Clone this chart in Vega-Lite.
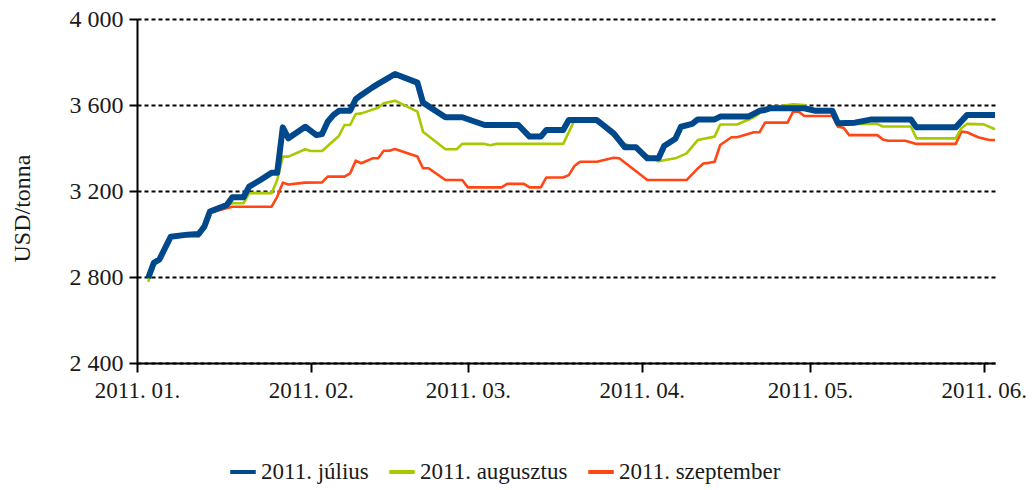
{
  "$schema": "https://vega.github.io/schema/vega-lite/v6.json",
  "width": 858,
  "height": 344,
  "autosize": {"type": "none"},
  "padding": {"left": 137, "top": 19, "right": 37, "bottom": 127},
  "background": "white",
  "config": {
    "font": "Liberation Serif",
    "view": {"stroke": null},
    "axis": {"labelFont": "Liberation Serif", "titleFont": "Liberation Serif"},
    "legend": {"labelFont": "Liberation Serif"}
  },
  "data": {"values": [
    {"d":"2011-01-03","s":"2011. július","v":2795},{"d":"2011-01-04","s":"2011. július","v":2866},{"d":"2011-01-05","s":"2011. július","v":2882},{"d":"2011-01-07","s":"2011. július","v":2987},{"d":"2011-01-10","s":"2011. július","v":2997},{"d":"2011-01-12","s":"2011. július","v":3000},{"d":"2011-01-13","s":"2011. július","v":3034},{"d":"2011-01-14","s":"2011. július","v":3104},{"d":"2011-01-17","s":"2011. július","v":3135},{"d":"2011-01-18","s":"2011. július","v":3171},{"d":"2011-01-20","s":"2011. július","v":3171},{"d":"2011-01-21","s":"2011. július","v":3220},{"d":"2011-01-23","s":"2011. július","v":3251},{"d":"2011-01-25","s":"2011. július","v":3285},{"d":"2011-01-26","s":"2011. július","v":3285},{"d":"2011-01-27","s":"2011. július","v":3496},{"d":"2011-01-28","s":"2011. július","v":3445},{"d":"2011-01-31","s":"2011. július","v":3499},{"d":"2011-02-02","s":"2011. július","v":3460},{"d":"2011-02-03","s":"2011. július","v":3465},{"d":"2011-02-04","s":"2011. július","v":3522},{"d":"2011-02-05","s":"2011. július","v":3553},{"d":"2011-02-06","s":"2011. július","v":3573},{"d":"2011-02-08","s":"2011. július","v":3573},{"d":"2011-02-09","s":"2011. július","v":3627},{"d":"2011-02-10","s":"2011. július","v":3647},{"d":"2011-02-12","s":"2011. július","v":3682},{"d":"2011-02-13","s":"2011. július","v":3698},{"d":"2011-02-14","s":"2011. július","v":3713},{"d":"2011-02-16","s":"2011. július","v":3744},{"d":"2011-02-20","s":"2011. július","v":3704},{"d":"2011-02-21","s":"2011. július","v":3611},{"d":"2011-02-25","s":"2011. július","v":3543},{"d":"2011-02-28","s":"2011. július","v":3543},{"d":"2011-03-04","s":"2011. július","v":3507},{"d":"2011-03-10","s":"2011. július","v":3507},{"d":"2011-03-12","s":"2011. július","v":3453},{"d":"2011-03-14","s":"2011. július","v":3453},{"d":"2011-03-15","s":"2011. július","v":3484},{"d":"2011-03-18","s":"2011. július","v":3484},{"d":"2011-03-19","s":"2011. július","v":3530},{"d":"2011-03-24","s":"2011. július","v":3530},{"d":"2011-03-27","s":"2011. július","v":3468},{"d":"2011-03-29","s":"2011. július","v":3403},{"d":"2011-03-31","s":"2011. július","v":3403},{"d":"2011-04-02","s":"2011. július","v":3352},{"d":"2011-04-04","s":"2011. július","v":3352},{"d":"2011-04-05","s":"2011. július","v":3409},{"d":"2011-04-07","s":"2011. július","v":3443},{"d":"2011-04-08","s":"2011. július","v":3499},{"d":"2011-04-10","s":"2011. július","v":3512},{"d":"2011-04-11","s":"2011. július","v":3533},{"d":"2011-04-14","s":"2011. július","v":3533},{"d":"2011-04-15","s":"2011. július","v":3546},{"d":"2011-04-20","s":"2011. július","v":3546},{"d":"2011-04-22","s":"2011. július","v":3573},{"d":"2011-04-23","s":"2011. július","v":3577},{"d":"2011-04-24","s":"2011. július","v":3585},{"d":"2011-04-30","s":"2011. július","v":3585},{"d":"2011-05-02","s":"2011. július","v":3573},{"d":"2011-05-05","s":"2011. július","v":3573},{"d":"2011-05-06","s":"2011. július","v":3515},{"d":"2011-05-09","s":"2011. július","v":3518},{"d":"2011-05-12","s":"2011. július","v":3533},{"d":"2011-05-19","s":"2011. július","v":3533},{"d":"2011-05-20","s":"2011. július","v":3496},{"d":"2011-05-27","s":"2011. július","v":3496},{"d":"2011-05-29","s":"2011. július","v":3553},{"d":"2011-06-03","s":"2011. július","v":3553},
    {"d":"2011-01-03","s":"2011. augusztus","v":2778},{"d":"2011-01-04","s":"2011. augusztus","v":2855},{"d":"2011-01-05","s":"2011. augusztus","v":2875},{"d":"2011-01-07","s":"2011. augusztus","v":2982},{"d":"2011-01-10","s":"2011. augusztus","v":2993},{"d":"2011-01-12","s":"2011. augusztus","v":2995},{"d":"2011-01-13","s":"2011. augusztus","v":3030},{"d":"2011-01-14","s":"2011. augusztus","v":3100},{"d":"2011-01-17","s":"2011. augusztus","v":3132},{"d":"2011-01-18","s":"2011. augusztus","v":3143},{"d":"2011-01-20","s":"2011. augusztus","v":3143},{"d":"2011-01-21","s":"2011. augusztus","v":3190},{"d":"2011-01-25","s":"2011. augusztus","v":3190},{"d":"2011-01-26","s":"2011. augusztus","v":3251},{"d":"2011-01-27","s":"2011. augusztus","v":3360},{"d":"2011-01-28","s":"2011. augusztus","v":3360},{"d":"2011-01-31","s":"2011. augusztus","v":3394},{"d":"2011-02-01","s":"2011. augusztus","v":3386},{"d":"2011-02-03","s":"2011. augusztus","v":3386},{"d":"2011-02-04","s":"2011. augusztus","v":3409},{"d":"2011-02-06","s":"2011. augusztus","v":3456},{"d":"2011-02-07","s":"2011. augusztus","v":3507},{"d":"2011-02-08","s":"2011. augusztus","v":3507},{"d":"2011-02-09","s":"2011. augusztus","v":3558},{"d":"2011-02-10","s":"2011. augusztus","v":3561},{"d":"2011-02-13","s":"2011. augusztus","v":3587},{"d":"2011-02-14","s":"2011. augusztus","v":3608},{"d":"2011-02-16","s":"2011. augusztus","v":3620},{"d":"2011-02-20","s":"2011. augusztus","v":3569},{"d":"2011-02-21","s":"2011. augusztus","v":3476},{"d":"2011-02-25","s":"2011. augusztus","v":3394},{"d":"2011-02-27","s":"2011. augusztus","v":3394},{"d":"2011-02-28","s":"2011. augusztus","v":3419},{"d":"2011-03-04","s":"2011. augusztus","v":3419},{"d":"2011-03-05","s":"2011. augusztus","v":3413},{"d":"2011-03-06","s":"2011. augusztus","v":3419},{"d":"2011-03-18","s":"2011. augusztus","v":3419},{"d":"2011-03-20","s":"2011. augusztus","v":3528},{"d":"2011-03-24","s":"2011. augusztus","v":3528},{"d":"2011-03-28","s":"2011. augusztus","v":3430},{"d":"2011-03-30","s":"2011. augusztus","v":3407},{"d":"2011-03-31","s":"2011. augusztus","v":3400},{"d":"2011-04-02","s":"2011. augusztus","v":3365},{"d":"2011-04-04","s":"2011. augusztus","v":3338},{"d":"2011-04-07","s":"2011. augusztus","v":3352},{"d":"2011-04-09","s":"2011. augusztus","v":3375},{"d":"2011-04-11","s":"2011. augusztus","v":3437},{"d":"2011-04-14","s":"2011. augusztus","v":3453},{"d":"2011-04-15","s":"2011. augusztus","v":3509},{"d":"2011-04-18","s":"2011. augusztus","v":3509},{"d":"2011-04-21","s":"2011. augusztus","v":3543},{"d":"2011-04-23","s":"2011. augusztus","v":3580},{"d":"2011-04-24","s":"2011. augusztus","v":3588},{"d":"2011-04-28","s":"2011. augusztus","v":3603},{"d":"2011-04-30","s":"2011. augusztus","v":3600},{"d":"2011-05-01","s":"2011. augusztus","v":3577},{"d":"2011-05-05","s":"2011. augusztus","v":3573},{"d":"2011-05-06","s":"2011. augusztus","v":3507},{"d":"2011-05-10","s":"2011. augusztus","v":3512},{"d":"2011-05-13","s":"2011. augusztus","v":3512},{"d":"2011-05-14","s":"2011. augusztus","v":3500},{"d":"2011-05-19","s":"2011. augusztus","v":3500},{"d":"2011-05-20","s":"2011. augusztus","v":3445},{"d":"2011-05-27","s":"2011. augusztus","v":3445},{"d":"2011-05-28","s":"2011. augusztus","v":3492},{"d":"2011-05-29","s":"2011. augusztus","v":3512},{"d":"2011-06-01","s":"2011. augusztus","v":3510},{"d":"2011-06-03","s":"2011. augusztus","v":3487},
    {"d":"2011-01-03","s":"2011. szeptember","v":2790},{"d":"2011-01-04","s":"2011. szeptember","v":2860},{"d":"2011-01-05","s":"2011. szeptember","v":2878},{"d":"2011-01-07","s":"2011. szeptember","v":2985},{"d":"2011-01-10","s":"2011. szeptember","v":2993},{"d":"2011-01-12","s":"2011. szeptember","v":2988},{"d":"2011-01-13","s":"2011. szeptember","v":3030},{"d":"2011-01-14","s":"2011. szeptember","v":3100},{"d":"2011-01-17","s":"2011. szeptember","v":3120},{"d":"2011-01-18","s":"2011. szeptember","v":3127},{"d":"2011-01-25","s":"2011. szeptember","v":3127},{"d":"2011-01-26","s":"2011. szeptember","v":3173},{"d":"2011-01-27","s":"2011. szeptember","v":3239},{"d":"2011-01-28","s":"2011. szeptember","v":3230},{"d":"2011-01-31","s":"2011. szeptember","v":3239},{"d":"2011-02-03","s":"2011. szeptember","v":3240},{"d":"2011-02-04","s":"2011. szeptember","v":3267},{"d":"2011-02-07","s":"2011. szeptember","v":3267},{"d":"2011-02-08","s":"2011. szeptember","v":3282},{"d":"2011-02-09","s":"2011. szeptember","v":3341},{"d":"2011-02-10","s":"2011. szeptember","v":3329},{"d":"2011-02-12","s":"2011. szeptember","v":3352},{"d":"2011-02-13","s":"2011. szeptember","v":3352},{"d":"2011-02-14","s":"2011. szeptember","v":3387},{"d":"2011-02-15","s":"2011. szeptember","v":3387},{"d":"2011-02-16","s":"2011. szeptember","v":3395},{"d":"2011-02-20","s":"2011. szeptember","v":3360},{"d":"2011-02-21","s":"2011. szeptember","v":3306},{"d":"2011-02-22","s":"2011. szeptember","v":3306},{"d":"2011-02-25","s":"2011. szeptember","v":3251},{"d":"2011-02-28","s":"2011. szeptember","v":3251},{"d":"2011-03-01","s":"2011. szeptember","v":3217},{"d":"2011-03-07","s":"2011. szeptember","v":3217},{"d":"2011-03-08","s":"2011. szeptember","v":3233},{"d":"2011-03-11","s":"2011. szeptember","v":3233},{"d":"2011-03-12","s":"2011. szeptember","v":3217},{"d":"2011-03-14","s":"2011. szeptember","v":3217},{"d":"2011-03-15","s":"2011. szeptember","v":3263},{"d":"2011-03-18","s":"2011. szeptember","v":3263},{"d":"2011-03-19","s":"2011. szeptember","v":3274},{"d":"2011-03-20","s":"2011. szeptember","v":3316},{"d":"2011-03-21","s":"2011. szeptember","v":3336},{"d":"2011-03-24","s":"2011. szeptember","v":3336},{"d":"2011-03-27","s":"2011. szeptember","v":3355},{"d":"2011-03-28","s":"2011. szeptember","v":3352},{"d":"2011-04-02","s":"2011. szeptember","v":3251},{"d":"2011-04-09","s":"2011. szeptember","v":3251},{"d":"2011-04-11","s":"2011. szeptember","v":3305},{"d":"2011-04-12","s":"2011. szeptember","v":3328},{"d":"2011-04-13","s":"2011. szeptember","v":3331},{"d":"2011-04-14","s":"2011. szeptember","v":3336},{"d":"2011-04-15","s":"2011. szeptember","v":3414},{"d":"2011-04-17","s":"2011. szeptember","v":3450},{"d":"2011-04-18","s":"2011. szeptember","v":3450},{"d":"2011-04-21","s":"2011. szeptember","v":3473},{"d":"2011-04-22","s":"2011. szeptember","v":3473},{"d":"2011-04-23","s":"2011. szeptember","v":3518},{"d":"2011-04-27","s":"2011. szeptember","v":3518},{"d":"2011-04-28","s":"2011. szeptember","v":3569},{"d":"2011-04-29","s":"2011. szeptember","v":3569},{"d":"2011-04-30","s":"2011. szeptember","v":3549},{"d":"2011-05-05","s":"2011. szeptember","v":3549},{"d":"2011-05-06","s":"2011. szeptember","v":3499},{"d":"2011-05-07","s":"2011. szeptember","v":3494},{"d":"2011-05-08","s":"2011. szeptember","v":3460},{"d":"2011-05-13","s":"2011. szeptember","v":3460},{"d":"2011-05-14","s":"2011. szeptember","v":3440},{"d":"2011-05-15","s":"2011. szeptember","v":3434},{"d":"2011-05-18","s":"2011. szeptember","v":3434},{"d":"2011-05-20","s":"2011. szeptember","v":3419},{"d":"2011-05-27","s":"2011. szeptember","v":3419},{"d":"2011-05-28","s":"2011. szeptember","v":3476},{"d":"2011-05-29","s":"2011. szeptember","v":3473},{"d":"2011-05-31","s":"2011. szeptember","v":3450},{"d":"2011-06-02","s":"2011. szeptember","v":3437},{"d":"2011-06-03","s":"2011. szeptember","v":3437}
  ]},
  "encoding": {
    "x": {
      "field": "d", "type": "temporal",
      "scale": {"type": "utc", "domain": [{"year": 2011, "month": 1, "date": 1, "utc": true}, {"year": 2011, "month": 6, "date": 3, "utc": true}]},
      "axis": {
        "title": null, "grid": false,
        "values": [{"year": 2011, "month": 1, "date": 1, "utc": true}, {"year": 2011, "month": 2, "date": 1, "utc": true}, {"year": 2011, "month": 3, "date": 1, "utc": true}, {"year": 2011, "month": 4, "date": 1, "utc": true}, {"year": 2011, "month": 5, "date": 1, "utc": true}, {"year": 2011, "month": 6, "date": 1, "utc": true}],
        "labelExpr": "utcFormat(datum.value, '%Y. %m.')",
        "domainColor": "black", "domainWidth": 2, "tickColor": "black", "tickWidth": 2, "tickSize": 9,
        "labelFont": "Liberation Serif", "labelFontSize": 23, "labelColor": "#1a1a1a", "labelPadding": 7, "labelFlush": false
      }
    },
    "y": {
      "field": "v", "type": "quantitative",
      "scale": {"domain": [2400, 4000], "nice": false, "zero": false},
      "axis": {
        "values": [2400, 2800, 3200, 3600, 4000],
        "labelExpr": "replace(format(datum.value, ','), ',', ' ')",
        "title": "USD/tonna", "titleFont": "Liberation Serif", "titleFontSize": 24, "titleFontWeight": "normal", "titleColor": "#1a1a1a",
        "titleX": -115, "titleY": 189, "titleAngle": -90, "titleAlign": "center", "titleBaseline": "middle",
        "grid": true, "gridColor": "black", "gridDash": [4, 3], "gridWidth": 2,
        "domainColor": "black", "domainWidth": 2, "tickColor": "black", "tickWidth": 2, "tickSize": 8,
        "labelFont": "Liberation Serif", "labelFontSize": 24, "labelColor": "#1a1a1a", "labelPadding": 6
      }
    },
    "color": {
      "field": "s", "type": "nominal",
      "scale": {"domain": ["2011. július", "2011. augusztus", "2011. szeptember"], "range": ["#00488C", "#A8C800", "#FF4614"]},
      "legend": {
        "title": null, "orient": "none", "legendX": 91, "legendY": 438, "direction": "horizontal",
        "symbolType": "stroke", "symbolStrokeWidth": 4, "symbolSize": 650,
        "labelFont": "Liberation Serif", "labelFontSize": 23, "labelColor": "#1a1a1a", "labelOffset": 3, "columnPadding": 12, "labelLimit": 400
      }
    }
  },
  "layer": [
    {"transform": [{"filter": {"field": "s", "equal": "2011. szeptember"}}], "mark": {"type": "line", "strokeWidth": 2.6, "strokeJoin": "round"}},
    {"transform": [{"filter": {"field": "s", "equal": "2011. augusztus"}}], "mark": {"type": "line", "strokeWidth": 2.6, "strokeJoin": "round"}},
    {"transform": [{"filter": {"field": "s", "equal": "2011. július"}}], "mark": {"type": "line", "strokeWidth": 6, "strokeJoin": "round"}}
  ]
}
